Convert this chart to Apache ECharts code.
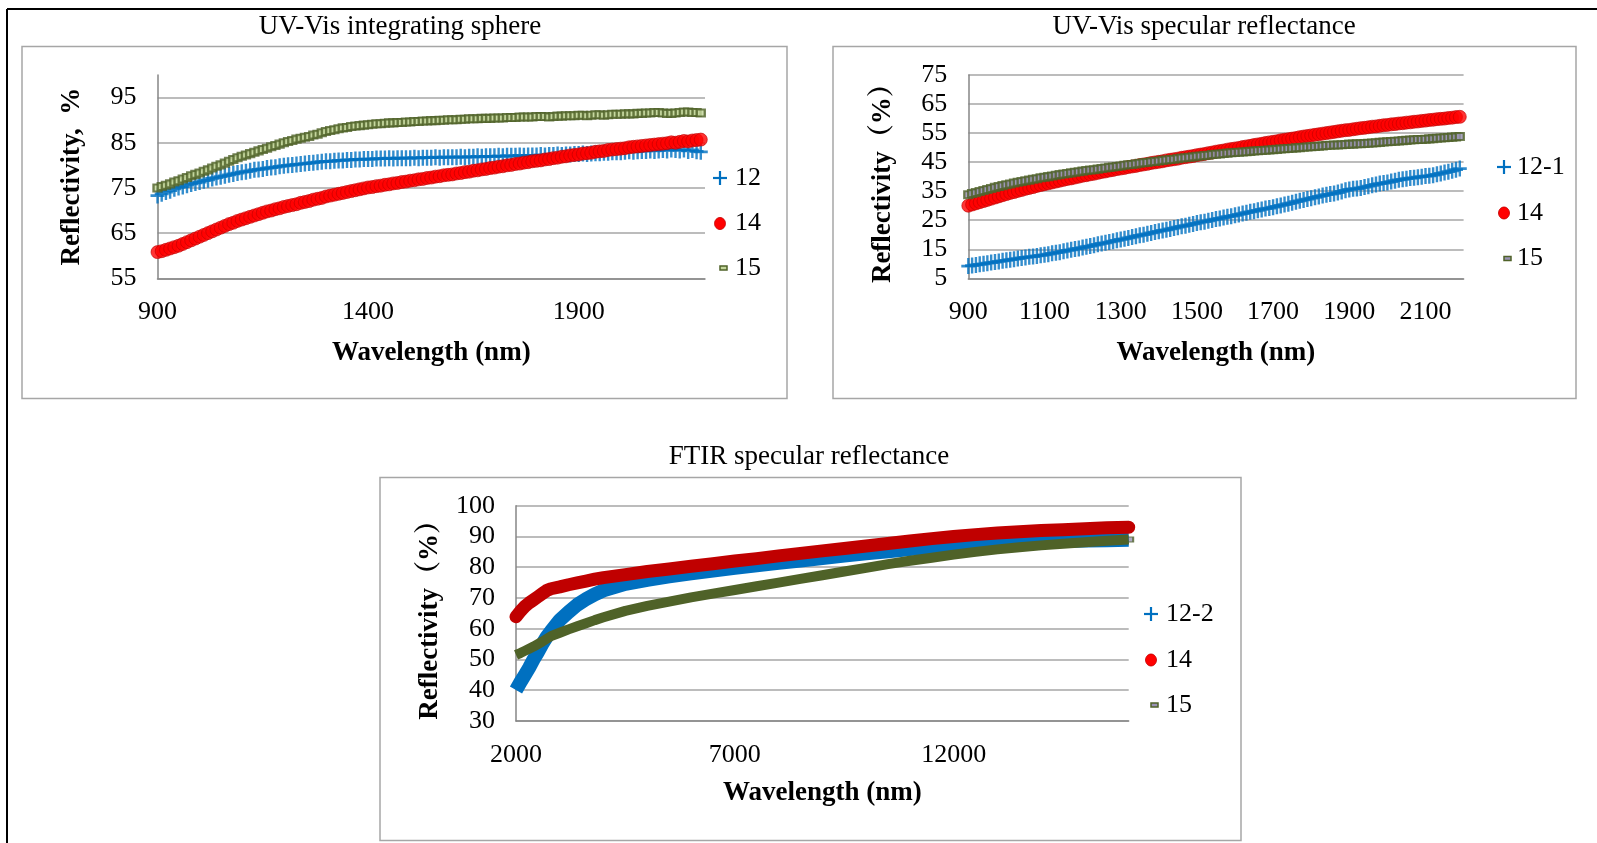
<!DOCTYPE html>
<html>
<head>
<meta charset="utf-8">
<title>Reflectivity spectra</title>
<script src="https://cdn.jsdelivr.net/npm/echarts@6/dist/echarts.min.js"></script>
<style>
  html, body { margin: 0; padding: 0; background: #ffffff; overflow: hidden; }
  #chart { width: 1597px; height: 843px; }
</style>
</head>
<body>
<div id="chart"></div>
<script>
// ---- UV-Vis wavelength grid (nm), shared by the two UV-Vis panels ----
const wavelengthVis = [
  900, 910, 920, 930, 940, 950, 960, 970, 980, 990,
  1000, 1010, 1020, 1030, 1040, 1050, 1060, 1070, 1080, 1090,
  1100, 1110, 1120, 1130, 1140, 1150, 1160, 1170, 1180, 1190,
  1200, 1210, 1220, 1230, 1240, 1250, 1260, 1270, 1280, 1290,
  1300, 1310, 1320, 1330, 1340, 1350, 1360, 1370, 1380, 1390,
  1400, 1410, 1420, 1430, 1440, 1450, 1460, 1470, 1480, 1490,
  1500, 1510, 1520, 1530, 1540, 1550, 1560, 1570, 1580, 1590,
  1600, 1610, 1620, 1630, 1640, 1650, 1660, 1670, 1680, 1690,
  1700, 1710, 1720, 1730, 1740, 1750, 1760, 1770, 1780, 1790,
  1800, 1810, 1820, 1830, 1840, 1850, 1860, 1870, 1880, 1890,
  1900, 1910, 1920, 1930, 1940, 1950, 1960, 1970, 1980, 1990,
  2000, 2010, 2020, 2030, 2040, 2050, 2060, 2070, 2080, 2090,
  2100, 2110, 2120, 2130, 2140, 2150, 2160, 2170, 2180, 2190
];

// ---- UV-Vis integrating sphere, reflectivity (%) ----
const sphere12 = [
  73.3, 73.7, 74.1, 74.4, 74.8, 75.1, 75.3, 75.6, 75.9, 76.1,
  76.3, 76.6, 76.8, 77.1, 77.3, 77.5, 77.7, 77.9, 78.1, 78.3,
  78.5, 78.6, 78.8, 79.0, 79.1, 79.2, 79.4, 79.5, 79.6, 79.8,
  79.9, 80.0, 80.1, 80.2, 80.3, 80.4, 80.5, 80.6, 80.7, 80.8,
  80.9, 80.9, 81.0, 81.1, 81.1, 81.2, 81.2, 81.3, 81.3, 81.4,
  81.4, 81.4, 81.5, 81.5, 81.5, 81.6, 81.5, 81.6, 81.6, 81.6,
  81.6, 81.7, 81.6, 81.7, 81.7, 81.7, 81.8, 81.7, 81.8, 81.8,
  81.8, 81.8, 81.9, 81.8, 81.9, 81.9, 82.0, 81.9, 82.0, 82.0,
  82.0, 82.1, 82.0, 82.1, 82.1, 82.1, 82.2, 82.1, 82.2, 82.2,
  82.2, 82.3, 82.2, 82.3, 82.3, 82.4, 82.3, 82.4, 82.4, 82.5,
  82.5, 82.6, 82.5, 82.6, 82.7, 82.7, 82.8, 82.8, 82.9, 82.9,
  82.9, 83.0, 83.1, 83.0, 83.1, 83.2, 83.2, 83.3, 83.2, 83.3,
  83.4, 83.3, 83.5, 83.4, 83.3, 83.5, 83.2, 83.4, 83.1, 83.0
];
const sphere14 = [
  60.8, 61.0, 61.3, 61.6, 61.9, 62.2, 62.6, 63.0, 63.4, 63.8,
  64.2, 64.6, 65.0, 65.4, 65.8, 66.2, 66.6, 67.0, 67.3, 67.7,
  68.0, 68.3, 68.6, 68.9, 69.2, 69.5, 69.8, 70.0, 70.3, 70.5,
  70.8, 71.0, 71.2, 71.4, 71.7, 71.9, 72.1, 72.4, 72.6, 72.8,
  73.1, 73.3, 73.5, 73.7, 73.9, 74.1, 74.3, 74.5, 74.7, 74.9,
  75.1, 75.2, 75.4, 75.5, 75.7, 75.8, 76.0, 76.1, 76.3, 76.4,
  76.6, 76.7, 76.9, 77.0, 77.2, 77.3, 77.5, 77.6, 77.8, 77.9,
  78.0, 78.2, 78.3, 78.5, 78.6, 78.8, 78.9, 79.1, 79.2, 79.4,
  79.5, 79.7, 79.8, 80.0, 80.1, 80.3, 80.4, 80.6, 80.7, 80.9,
  81.0, 81.1, 81.3, 81.4, 81.6, 81.7, 81.9, 82.0, 82.2, 82.3,
  82.4, 82.6, 82.7, 82.8, 83.0, 83.1, 83.2, 83.4, 83.5, 83.6,
  83.7, 83.8, 84.0, 84.1, 84.2, 84.3, 84.4, 84.5, 84.6, 84.7,
  84.8, 84.9, 85.1, 85.0, 85.2, 85.4, 85.3, 85.5, 85.6, 85.7
];
const sphere15 = [
  75.0, 75.3, 75.6, 75.9, 76.3, 76.6, 77.0, 77.3, 77.7, 78.0,
  78.3, 78.7, 79.0, 79.4, 79.8, 80.1, 80.5, 80.9, 81.3, 81.7,
  82.0, 82.3, 82.6, 82.9, 83.2, 83.5, 83.8, 84.1, 84.4, 84.7,
  85.0, 85.3, 85.5, 85.8, 86.0, 86.2, 86.4, 86.7, 86.9, 87.2,
  87.5, 87.7, 87.9, 88.1, 88.3, 88.4, 88.6, 88.7, 88.8, 88.9,
  89.0, 89.1, 89.2, 89.2, 89.3, 89.4, 89.4, 89.5, 89.5, 89.6,
  89.6, 89.7, 89.7, 89.8, 89.8, 89.9, 89.9, 90.0, 90.0, 90.1,
  90.1, 90.1, 90.2, 90.2, 90.3, 90.3, 90.3, 90.4, 90.4, 90.4,
  90.5, 90.5, 90.5, 90.6, 90.6, 90.6, 90.7, 90.7, 90.7, 90.7,
  90.8, 90.8, 90.8, 90.7, 90.8, 90.9, 90.9, 91.0, 91.0, 91.0,
  91.1, 91.1, 91.0, 91.1, 91.2, 91.2, 91.1, 91.2, 91.3, 91.3,
  91.3, 91.4, 91.4, 91.4, 91.5, 91.5, 91.6, 91.6, 91.7, 91.7,
  91.6, 91.5, 91.5, 91.6, 91.7, 91.8, 91.8, 91.7, 91.7, 91.6
];

// ---- UV-Vis specular reflectance, reflectivity (%) ----
const specular12_1 = [
  9.2, 9.4, 9.6, 9.8, 10.0, 10.2, 10.4, 10.6, 10.8, 11.0,
  11.2, 11.4, 11.6, 11.8, 12.0, 12.2, 12.4, 12.5, 12.7, 12.9,
  13.1, 13.3, 13.6, 13.8, 14.0, 14.3, 14.6, 14.8, 15.1, 15.3,
  15.6, 15.9, 16.1, 16.4, 16.7, 17.0, 17.2, 17.5, 17.8, 18.1,
  18.4, 18.6, 18.9, 19.2, 19.5, 19.8, 20.0, 20.3, 20.6, 20.9,
  21.2, 21.5, 21.7, 22.0, 22.3, 22.6, 22.9, 23.1, 23.4, 23.7,
  24.0, 24.3, 24.5, 24.8, 25.1, 25.4, 25.6, 25.9, 26.2, 26.4,
  26.7, 27.0, 27.3, 27.6, 27.9, 28.1, 28.4, 28.7, 29.0, 29.2,
  29.5, 29.8, 30.1, 30.4, 30.7, 31.0, 31.4, 31.7, 32.0, 32.3,
  32.6, 32.9, 33.2, 33.5, 33.8, 34.0, 34.2, 34.5, 34.9, 35.3,
  35.6, 35.8, 35.9, 36.1, 36.4, 36.7, 37.0, 37.3, 37.6, 37.8,
  38.0, 38.3, 38.6, 38.9, 39.1, 39.3, 39.5, 39.6, 39.8, 40.0,
  40.2, 40.3, 40.5, 40.8, 41.1, 41.4, 41.7, 42.0, 42.4, 42.8
];
const specular14 = [
  30.0, 30.4, 30.8, 31.2, 31.6, 32.0, 32.4, 32.8, 33.2, 33.6,
  34.0, 34.4, 34.7, 35.1, 35.4, 35.8, 36.1, 36.4, 36.8, 37.1,
  37.4, 37.7, 38.0, 38.3, 38.6, 38.9, 39.2, 39.4, 39.7, 40.0,
  40.3, 40.5, 40.8, 41.0, 41.3, 41.6, 41.8, 42.1, 42.3, 42.6,
  42.8, 43.0, 43.3, 43.5, 43.7, 44.0, 44.2, 44.4, 44.7, 44.9,
  45.1, 45.3, 45.6, 45.8, 46.0, 46.2, 46.5, 46.7, 46.9, 47.1,
  47.4, 47.6, 47.8, 48.1, 48.3, 48.6, 48.8, 49.0, 49.3, 49.5,
  49.7, 49.9, 50.2, 50.4, 50.6, 50.9, 51.1, 51.3, 51.6, 51.8,
  52.0, 52.2, 52.5, 52.7, 52.9, 53.1, 53.3, 53.6, 53.8, 54.0,
  54.2, 54.4, 54.6, 54.8, 55.0, 55.2, 55.4, 55.6, 55.8, 56.0,
  56.1, 56.3, 56.5, 56.7, 56.8, 57.0, 57.2, 57.3, 57.5, 57.7,
  57.8, 58.0, 58.1, 58.3, 58.4, 58.6, 58.7, 58.9, 59.0, 59.2,
  59.3, 59.5, 59.6, 59.8, 59.9, 60.0, 60.2, 60.3, 60.5, 60.6
];
const specular15 = [
  33.8, 34.2, 34.5, 34.9, 35.2, 35.6, 35.9, 36.3, 36.6, 36.9,
  37.2, 37.5, 37.8, 38.1, 38.3, 38.6, 38.8, 39.1, 39.3, 39.6,
  39.8, 40.0, 40.2, 40.5, 40.7, 40.9, 41.1, 41.3, 41.5, 41.7,
  41.9, 42.1, 42.3, 42.4, 42.6, 42.8, 43.0, 43.2, 43.3, 43.5,
  43.7, 43.9, 44.1, 44.2, 44.4, 44.6, 44.8, 44.9, 45.1, 45.2,
  45.4, 45.6, 45.7, 45.9, 46.0, 46.2, 46.4, 46.5, 46.7, 46.8,
  47.0, 47.1, 47.3, 47.4, 47.6, 47.7, 47.8, 48.0, 48.1, 48.2,
  48.3, 48.4, 48.5, 48.6, 48.7, 48.8, 48.9, 49.0, 49.1, 49.2,
  49.3, 49.4, 49.5, 49.6, 49.7, 49.8, 49.9, 50.0, 50.1, 50.2,
  50.3, 50.4, 50.5, 50.6, 50.7, 50.8, 50.9, 50.9, 51.0, 51.1,
  51.2, 51.2, 51.3, 51.3, 51.4, 51.5, 51.6, 51.7, 51.8, 51.9,
  52.0, 52.1, 52.2, 52.3, 52.4, 52.5, 52.6, 52.7, 52.8, 52.8,
  52.9, 53.0, 53.1, 53.2, 53.3, 53.4, 53.5, 53.6, 53.7, 53.8
];

// ---- FTIR specular reflectance ----
const wavelengthIR = [
  2000, 2100, 2200, 2300, 2400, 2500, 2600, 2700, 2800,
  3000, 3200, 3400, 3600, 3800, 4000,
  4500, 5000, 5500, 6000, 6500, 7000, 7500, 8000, 8500, 9000, 9500, 10000,
  10500, 11000, 11500, 12000, 12500, 13000, 13500, 14000, 14500, 15000, 15500, 16000
];
const ftir12_2 = [
  40.1, 42.6, 44.9, 47.3, 50.0, 52.4, 55.0, 57.3, 59.2,
  62.8, 65.4, 67.8, 69.6, 71.2, 72.5,
  74.6, 75.9, 77.0, 78.0, 78.9, 79.8, 80.6, 81.4, 82.2, 83.0, 83.8, 84.5,
  85.2, 85.9, 86.5, 87.0, 87.5, 87.8, 88.1, 88.3, 88.5, 88.7, 88.8, 88.9
];
const ftir14 = [
  63.9, 65.7, 67.2, 68.4, 69.4, 70.4, 71.4, 72.4, 73.0,
  73.6, 74.3, 74.9, 75.5, 76.1, 76.6,
  77.6, 78.6, 79.4, 80.3, 81.1, 82.0, 82.8, 83.7, 84.5, 85.3, 86.1, 86.9,
  87.7, 88.5, 89.3, 90.0, 90.6, 91.1, 91.5, 91.9, 92.2, 92.5, 92.8, 93.0
];
const ftir15 = [
  51.5, 52.1, 52.8, 53.5, 54.2, 55.0, 55.8, 56.7, 57.6,
  58.7, 59.8, 60.8, 61.8, 62.8, 63.7,
  65.8, 67.4, 68.8, 70.2, 71.4, 72.6, 73.8, 75.0, 76.2, 77.4, 78.6, 79.8,
  81.0, 82.1, 83.1, 84.1, 85.0, 85.8, 86.5, 87.1, 87.6, 88.1, 88.6, 89.0
];

// ---- axis ticks ----
const sphereYTicks = [55, 65, 75, 85, 95];
const sphereYMax = 100;
const sphereXTicks = [900, 1400, 1900];
const specularYTicks = [5, 15, 25, 35, 45, 55, 65, 75];
const specularXTicks = [900, 1100, 1300, 1500, 1700, 1900, 2100];
const visXMax = 2200;
const ftirYTicks = [30, 40, 50, 60, 70, 80, 90, 100];
const ftirXTicks = [2000, 7000, 12000];
const ftirXMax = 16000;

// ---- legend texts ----
const sphereLegend = ['12', '14', '15'];
const specularLegend = ['12-1', '14', '15'];
const ftirLegend = ['12-2', '14', '15'];

// ---- styling ----
const SERIF = '"Liberation Serif", "Times New Roman", serif';
const SERIF_CJK = '"Liberation Serif", "Noto Serif CJK SC", "Noto Sans CJK SC", serif';
const BLUE = '#0070C0';
const RED = '#FF0000';
const DARK_RED = '#C00000';
const OLIVE = '#4F6228';
const PALE_GREEN = '#C3D69B';
const GREY_FILL = '#9A93B5';
const GRID_GREY = '#A6A6A6';
const AXIS_GREY = '#868686';
// plus sign with 2.4-unit arms in a 14x14 box
const PLUS = 'path://M5.8,0H8.2V5.8H14V8.2H8.2V14H5.8V8.2H0V5.8H5.8Z';

const pairs = (xs, ys) => xs.map((x, i) => [x, ys[i]]);
const plainNumber = v => String(v);

const chart = echarts.init(document.getElementById('chart'), null, { renderer: 'canvas' });

function xAxisCfg(gridIndex, ticks, max, nameGap) {
  return {
    gridIndex, type: 'value',
    min: ticks[0], max, interval: ticks[1] - ticks[0],
    name: 'Wavelength (nm)', nameLocation: 'middle', nameGap, nameMoveOverlap: false,
    nameTextStyle: { fontFamily: SERIF, fontSize: 27, fontWeight: 'bold', color: '#000' },
    axisLine: { show: true, onZero: false, lineStyle: { color: AXIS_GREY, width: 1.5 } },
    axisTick: { show: false },
    axisLabel: { margin: 21, fontFamily: SERIF, fontSize: 26, color: '#000',
      showMaxLabel: false, showMinLabel: true, formatter: plainNumber },
    splitLine: { show: false }
  };
}

function yAxisCfg(gridIndex, ticks, max, name, showTop) {
  return {
    gridIndex, type: 'value',
    min: ticks[0], max, interval: ticks[1] - ticks[0],
    name, nameLocation: 'middle', nameGap: 72, nameRotate: 90, nameMoveOverlap: false,
    nameTextStyle: { fontFamily: SERIF_CJK, fontSize: 27, fontWeight: 'bold', color: '#000' },
    axisLine: { show: true, onZero: false, lineStyle: { color: AXIS_GREY, width: 1.5 } },
    axisTick: { show: false },
    axisLabel: { margin: 21, fontFamily: SERIF, fontSize: 26, color: '#000',
      showMaxLabel: showTop, showMinLabel: true, formatter: plainNumber },
    splitLine: { show: true, showMaxLine: showTop, lineStyle: { color: GRID_GREY, width: 1.5 } }
  };
}

function plusSeries(idx, xs, ys) {
  return { type: 'scatter', xAxisIndex: idx, yAxisIndex: idx, data: pairs(xs, ys),
    symbol: PLUS, symbolSize: [14, 16], itemStyle: { color: BLUE }, silent: true, clip: false };
}
function circleSeries(idx, xs, ys) {
  return { type: 'scatter', xAxisIndex: idx, yAxisIndex: idx, data: pairs(xs, ys),
    symbol: 'circle', symbolSize: 13,
    itemStyle: { color: RED, borderColor: DARK_RED, borderWidth: 0.8 }, silent: true, clip: false };
}
function dashSeries(idx, xs, ys, fill, size, bw) {
  return { type: 'scatter', xAxisIndex: idx, yAxisIndex: idx, data: pairs(xs, ys),
    symbol: 'rect', symbolSize: size,
    itemStyle: { color: fill, borderColor: OLIVE, borderWidth: bw }, silent: true, clip: false };
}
function bandSeries(idx, xs, ys, color, width, cap) {
  return { type: 'line', xAxisIndex: idx, yAxisIndex: idx, data: pairs(xs, ys),
    symbol: 'none', clip: false, silent: true,
    lineStyle: { color, width, cap, join: 'round' } };
}
function endMarker(idx, xs, ys, symbol, size, style) {
  const n = xs.length - 1;
  return { type: 'scatter', xAxisIndex: idx, yAxisIndex: idx, data: [[xs[n], ys[n]]],
    symbol, symbolSize: size, itemStyle: style, silent: true, clip: false };
}

// legend block: marker column at mx, text starting at tx, rows at ys
function legendBlock(mx, tx, ys, labels, dashFill) {
  const els = [];
  els.push({ type: 'rect', shape: { x: mx - 7, y: ys[0] - 1.1, width: 14, height: 2.2 }, style: { fill: BLUE } });
  els.push({ type: 'rect', shape: { x: mx - 1.1, y: ys[0] - 7, width: 2.2, height: 14 }, style: { fill: BLUE } });
  els.push({ type: 'ellipse', shape: { cx: mx, cy: ys[1], rx: 5.5, ry: 6 }, style: { fill: RED, stroke: DARK_RED, lineWidth: 0.8 } });
  els.push({ type: 'rect', shape: { x: mx, y: ys[2] - 2, width: 7, height: 4 }, style: { fill: dashFill, stroke: OLIVE, lineWidth: 1.5 } });
  labels.forEach((t, i) => {
    els.push({ type: 'text', x: tx, y: ys[i],
      style: { text: t, fontFamily: SERIF, fontSize: 26, fill: '#000', align: 'left', verticalAlign: 'middle' } });
  });
  return els;
}

function titleText(x, y, text) {
  return { type: 'text', x, y,
    style: { text, fontFamily: SERIF, fontSize: 27, fill: '#000', align: 'center', verticalAlign: 'middle' } };
}
function box(x, y, w, h) {
  return { type: 'rect', shape: { x, y, width: w, height: h }, style: { fill: 'none', stroke: GRID_GREY, lineWidth: 1.5 }, z: -1 };
}

const option = {
  backgroundColor: '#ffffff',
  animation: false,
  grid: [
    { left: 157.5, top: 75, width: 547.5, height: 203.3, outerBoundsMode: 'none' },
    { left: 968.3, top: 75, width: 495.3, height: 203.3, outerBoundsMode: 'none' },
    { left: 516, top: 505.7, width: 612.7, height: 215.3, outerBoundsMode: 'none' }
  ],
  xAxis: [
    xAxisCfg(0, sphereXTicks, visXMax, 61),
    xAxisCfg(1, specularXTicks, visXMax, 61),
    xAxisCfg(2, ftirXTicks, ftirXMax, 59)
  ],
  yAxis: [
    yAxisCfg(0, sphereYTicks, sphereYMax, 'Reflectivity,  %', false),
    yAxisCfg(1, specularYTicks, specularYTicks[specularYTicks.length - 1], 'Reflectivity（%）', true),
    yAxisCfg(2, ftirYTicks, ftirYTicks[ftirYTicks.length - 1], 'Reflectivity（%）', true)
  ],
  series: [
    plusSeries(0, wavelengthVis, sphere12),
    circleSeries(0, wavelengthVis, sphere14),
    dashSeries(0, wavelengthVis, sphere15, PALE_GREEN, [8, 7], 2.2),

    plusSeries(1, wavelengthVis, specular12_1),
    circleSeries(1, wavelengthVis, specular14),
    dashSeries(1, wavelengthVis, specular15, GREY_FILL, [8, 7], 2.2),

    bandSeries(2, wavelengthIR, ftir12_2, BLUE, 14, 'butt'),
    bandSeries(2, wavelengthIR, ftir14, DARK_RED, 13, 'round'),
    bandSeries(2, wavelengthIR, ftir15, OLIVE, 10, 'butt'),
    endMarker(2, wavelengthIR, ftir14, 'circle', 11, { color: RED }),
    endMarker(2, wavelengthIR, ftir15, 'rect', [9, 5], { color: GREY_FILL, borderColor: OLIVE, borderWidth: 1.5 })
  ],
  graphic: [
    // outer frame (top and left edges)
    { type: 'line', shape: { x1: 7, y1: 9, x2: 1597, y2: 9 }, style: { stroke: '#000', lineWidth: 2 } },
    { type: 'line', shape: { x1: 7, y1: 9, x2: 7, y2: 843 }, style: { stroke: '#000', lineWidth: 2 } },
    box(22, 46.5, 765, 352),
    box(833, 46.5, 743, 352),
    box(380, 477.5, 861, 363),
    titleText(400, 26.5, 'UV-Vis integrating sphere'),
    titleText(1204, 26.5, 'UV-Vis specular reflectance'),
    titleText(809, 456.5, 'FTIR specular reflectance'),
    ...legendBlock(720, 735, [178, 223.5, 268], sphereLegend, PALE_GREEN),
    ...legendBlock(1504, 1517, [167, 213, 258.5], specularLegend, GREY_FILL),
    ...legendBlock(1151, 1166, [614, 660, 705], ftirLegend, GREY_FILL)
  ]
};

chart.setOption(option);
</script>
</body>
</html>
